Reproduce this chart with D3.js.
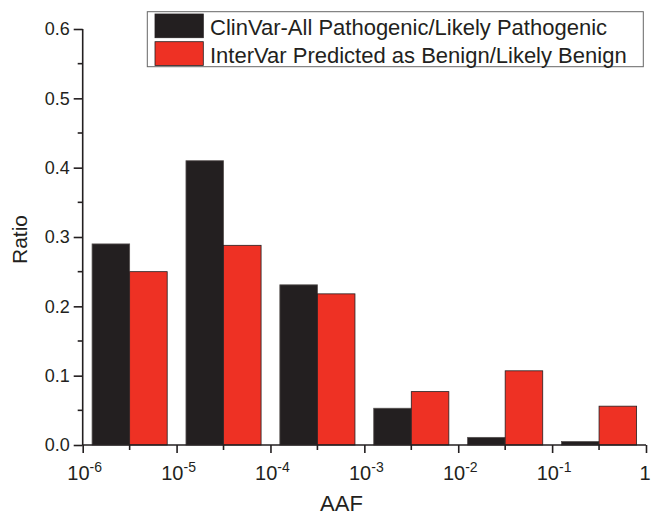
<!DOCTYPE html>
<html><head><meta charset="utf-8">
<script src="https://cdn.jsdelivr.net/npm/d3@7"></script>
<style>body{margin:0;background:#fff;} svg{display:block;font-family:Arial,"Liberation Sans",sans-serif;}</style>
</head><body>
<svg id="c" width="652" height="516"></svg>
<script>
// group centres (log10 of AAF)
const centers = [-5.5, -4.5, -3.5, -2.5, -1.5, -0.5];
const clinvar = [0.290, 0.410, 0.231, 0.053, 0.011, 0.005];
const intervar = [0.250, 0.288, 0.218, 0.077, 0.107, 0.056];
const seriesNames = ["ClinVar-All Pathogenic/Likely Pathogenic", "InterVar Predicted as Benign/Likely Benign"];
const seriesColors = ["#231f20", "#ee3124"];
const xTickExps = [-6, -5, -4, -3, -2, -1, 0];
const yTicks = [0, 0.1, 0.2, 0.3, 0.4, 0.5, 0.6];

const svg = d3.select("#c");
const ink = "#231f20";
const x = d3.scaleLog().domain([1e-6, 1]).range([82.7, 646]);
const y = d3.scaleLinear().domain([0, 0.6]).range([445, 29]);
const halfW = 0.4;

const series = [clinvar, intervar];
series.forEach((vals, si) => {
  svg.append("g").selectAll("rect").data(vals).join("rect")
    .attr("x", (d, i) => x(Math.pow(10, centers[i] + (si === 0 ? -halfW : 0))))
    .attr("width", (d, i) => x(Math.pow(10, centers[i] + (si === 0 ? 0 : halfW))) - x(Math.pow(10, centers[i] + (si === 0 ? -halfW : 0))))
    .attr("y", d => y(d))
    .attr("height", d => y(0) - y(d))
    .attr("fill", seriesColors[si])
    .attr("stroke", si === 0 ? "#55504f" : ink)
    .attr("stroke-width", 0.8);
});

// Y axis
const yAxis = d3.axisLeft(y).tickValues(yTicks).tickFormat(d3.format(".1f")).tickSize(9).tickPadding(4);
const gy = svg.append("g").attr("transform", "translate(82.7,0)").call(yAxis);
gy.select(".domain").attr("stroke", ink).attr("stroke-width", 1.6).attr("d", "M0,29V445");
gy.selectAll(".tick line").attr("stroke", ink).attr("stroke-width", 1.6);
gy.selectAll(".tick text").attr("fill", ink).attr("font-size", 18).attr("font-family", "Arial, Liberation Sans, sans-serif");
const yMinor = d3.range(0.05, 0.6, 0.1);
gy.selectAll(".minor").data(yMinor).join("line").attr("class", "minor")
  .attr("x1", -5).attr("x2", 0).attr("y1", d => y(d)).attr("y2", d => y(d))
  .attr("stroke", ink).attr("stroke-width", 1.6);

// X axis
const xAxis = d3.axisBottom(x).tickValues(xTickExps.map(e => Math.pow(10, e))).tickFormat("").tickSize(8);
const gx = svg.append("g").attr("transform", "translate(0,445)").call(xAxis);
gx.select(".domain").attr("stroke", ink).attr("stroke-width", 1.6).attr("d", "M82.7,0H646");
gx.selectAll(".tick line").attr("stroke", ink).attr("stroke-width", 1.6);
gx.selectAll(".minor").data(centers).join("line").attr("class", "minor")
  .attr("y1", 0).attr("y2", 5).attr("x1", d => x(Math.pow(10, d))).attr("x2", d => x(Math.pow(10, d)))
  .attr("stroke", ink).attr("stroke-width", 1.6);
// tick labels
xTickExps.forEach(e => {
  const px = x(Math.pow(10, e));
  const t = svg.append("text").attr("y", 480).attr("fill", ink).attr("font-size", 20).attr("text-anchor", "middle");
  if (e === 0) {
    t.attr("x", px - 1).text("1");
  } else {
    t.attr("x", px + 2);
    t.append("tspan").text("10");
    t.append("tspan").attr("dy", -8).attr("font-size", 14).text(String(e));
  }
});

// axis titles
svg.append("text").attr("x", 341.5).attr("y", 511).attr("text-anchor", "middle").attr("font-size", 22).attr("fill", ink).text("AAF");
svg.append("text").attr("transform", "translate(27,239.5) rotate(-90)").attr("text-anchor", "middle").attr("font-size", 21).attr("fill", ink).text("Ratio");

// legend
const lg = svg.append("g");
lg.append("rect").attr("x", 147.3).attr("y", 11.7).attr("width", 496).attr("height", 55).attr("fill", "#fff").attr("stroke", "#666").attr("stroke-width", 1);
seriesNames.forEach((n, i) => {
  lg.append("rect").attr("x", 155).attr("y", 14 + i * 27.7).attr("width", 48.3).attr("height", 23.7)
    .attr("fill", seriesColors[i]).attr("stroke", ink).attr("stroke-width", 0.8);
  lg.append("text").attr("x", 210).attr("y", 34.5 + i * 28.3).attr("font-size", 22).attr("fill", ink).text(n);
});
</script>
</body></html>
